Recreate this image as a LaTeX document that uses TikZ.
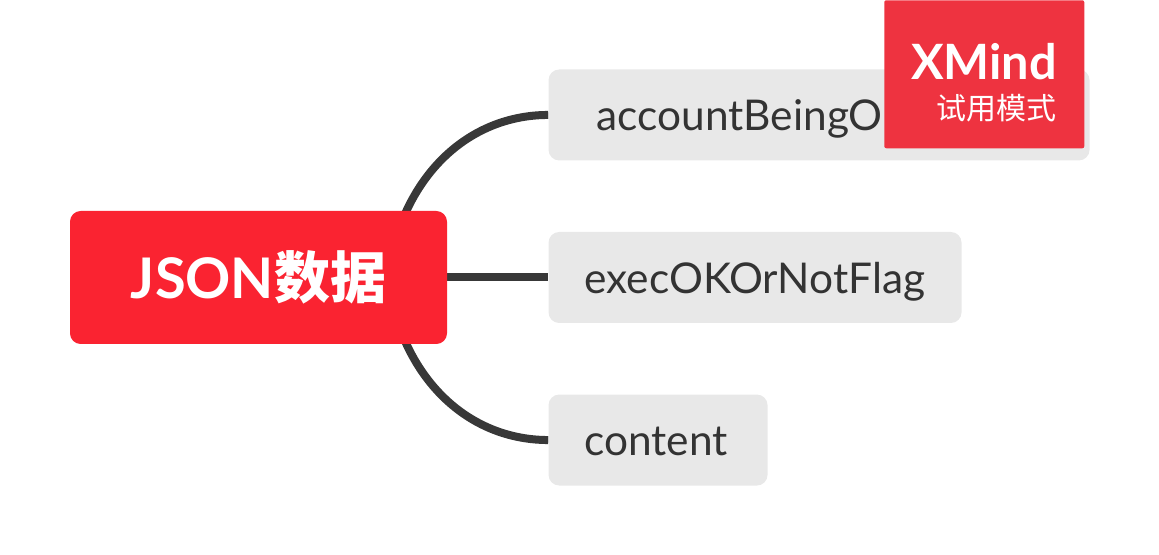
\documentclass[tikz,border=0pt]{standalone}
\usepackage{fontspec}
\usepackage{xcolor}
\usepackage{tikz}
\usetikzlibrary{positioning,calc,backgrounds}
\setmainfont{Lato}
\newfontfamily\cjkfont{Noto Sans CJK SC}
\definecolor{mmroot}{RGB}{250,35,49}
\definecolor{mmbadge}{RGB}{238,51,64}
\definecolor{mmtopic}{RGB}{232,232,232}
\definecolor{mmedge}{RGB}{56,56,56}
\definecolor{mmtext}{RGB}{51,51,51}
\tikzset{
  rootbox/.style={
    fill=mmroot, rounded corners=8pt, text=white, align=center,
    minimum width=282.75pt, minimum height=99.75pt, inner sep=0pt,
    text height=41.5pt, text depth=10pt,
    font=\fontsize{42}{48}\selectfont\bfseries
  },
  topic/.style={
    fill=mmtopic, rounded corners=8pt, text=mmtext, align=left,
    minimum height=68.25pt, inner ysep=0pt, inner xsep=27pt,
    text height=31.5pt, text depth=8pt,
    font=\fontsize{31.8}{38}\selectfont
  },
  conn/.style={draw=mmedge, line width=6pt},
  badge/.style={fill=mmbadge, rounded corners=1.5pt, minimum width=150pt, minimum height=111pt, inner sep=0pt},
  brand/.style={text=white, inner sep=0pt, font=\fontsize{36.5}{42}\selectfont\bfseries},
  trial/.style={text=white, inner sep=0pt, font=\fontsize{22.5}{27}\selectfont\cjkfont}
}
\begin{document}
\begin{tikzpicture}[x=0.75pt,y=0.75pt]
  \useasboundingbox (0,0) rectangle (1159,-555);
  \node[rootbox] (root) at (258.5,-277.5) {JSON{\cjkfont 数据}};
  \node[topic, text width=255.75pt, right=75.75pt of root] (flag) {execOKOrNotFlag};
  \node[topic, text width=333.75pt, inner xsep=36pt, above=53.25pt of flag.north west, anchor=south west] (account) {accountBeingO};
  \node[topic, text width=110.25pt, below=53.25pt of flag.south west, anchor=north west] (content) {content};
  \coordinate (hubup) at ($(root.east)+(-39pt,28.1pt)$);
  \coordinate (hubdown) at ($(root.east)+(-39pt,-28.1pt)$);
  \begin{scope}[on background layer]
    \draw[conn] (hubup) to[out=73,in=180,out looseness=1.09,in looseness=0.88] (account.west);
    \draw[conn] (root.east) -- (flag.west);
    \draw[conn] (hubdown) to[out=-73,in=180,out looseness=1.09,in looseness=0.88] (content.west);
  \end{scope}
  \node[badge, anchor=north west] (mark) at (884,0) {};
  \node[brand, anchor=base east] (xmind) at (1057,-80) {XMind};
  \node[trial, anchor=base east] (mode) at (1057,-120) {试用模式};
\end{tikzpicture}
\end{document}
